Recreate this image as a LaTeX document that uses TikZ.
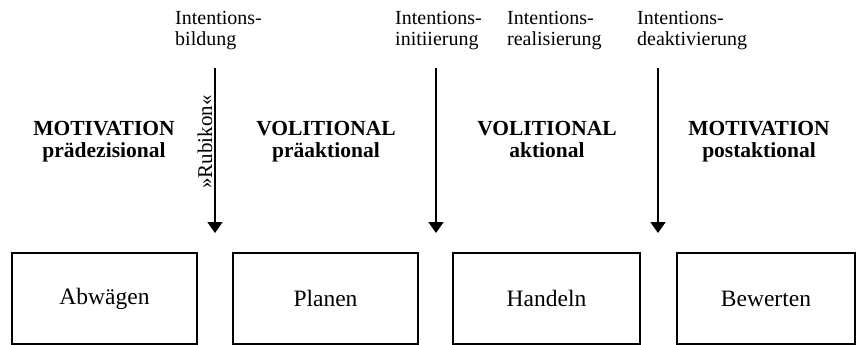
\documentclass[tikz,border=0pt]{standalone}
\usepackage{fontspec}
\setmainfont{Liberation Serif}
\usetikzlibrary{arrows.meta}
\tikzset{
  toplabel/.style={anchor=north west, inner sep=0pt, align=left, font=\fontsize{20}{21}\selectfont},
  phase/.style={anchor=north, inner sep=0pt, align=center, font=\fontsize{21.5}{22}\selectfont\bfseries},
  stagebox/.style={draw, line width=1.8pt, minimum height=91pt, inner sep=0pt, font=\fontsize{23.5}{26}\selectfont},
  transition/.style={line width=1.8pt, -{Triangle[width=15pt,length=11pt]}},
}
\begin{document}
\begin{tikzpicture}[x=1pt,y=-1pt]
\useasboundingbox (0,0) rectangle (857,345);
% top labels
\node[toplabel] (t1) at (175,10.8) {Intentions-\\bildung};
\node[toplabel] (t2) at (395,10.8) {Intentions-\\initiierung};
\node[toplabel] (t3) at (507,10.8) {Intentions-\\realisierung};
\node[toplabel] (t4) at (637,10.8) {Intentions-\\deaktivierung};
% phase headings
\node[phase] (p1) at (104,121) {MOTIVATION\\prädezisional};
\node[phase] (p2) at (326,121) {VOLITIONAL\\präaktional};
\node[phase] (p3) at (547,121) {VOLITIONAL\\aktional};
\node[phase] (p4) at (759,121) {MOTIVATION\\postaktional};
% arrows
\coordinate (a1s) at (215,68);
\coordinate (a1e) at (215,233);
\coordinate (a2s) at (436,68);
\coordinate (a2e) at (436,233);
\coordinate (a3s) at (658,68);
\coordinate (a3e) at (658,233);
\draw[transition] (a1s) -- (a1e);
\draw[transition] (a2s) -- (a2e);
\draw[transition] (a3s) -- (a3e);
\node[rotate=90, anchor=base, inner sep=0pt, font=\fontsize{21}{22}\selectfont] (rub) at (212,142) {»Rubikon«};
% boxes
\node[stagebox, minimum width=185pt] (b1) at (104.5,298.5) {Abwägen};
\node[stagebox, minimum width=185pt] (b2) at (325.5,298.5) {Planen};
\node[stagebox, minimum width=187pt] (b3) at (546.5,298.5) {Handeln};
\node[stagebox, minimum width=178pt] (b4) at (766,298.5) {Bewerten};
\end{tikzpicture}
\end{document}
